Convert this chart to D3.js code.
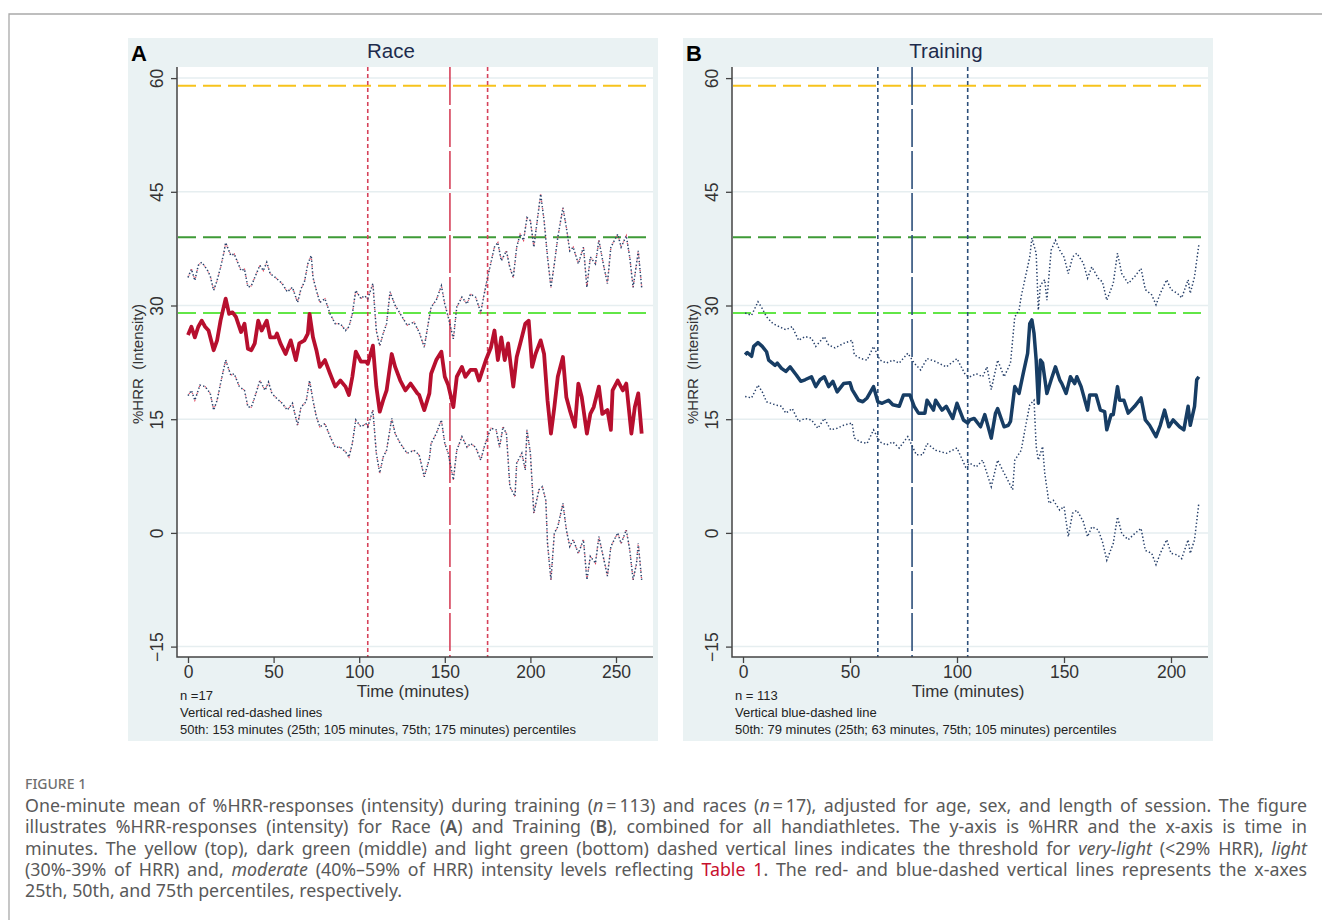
<!DOCTYPE html>
<html>
<head>
<meta charset="utf-8">
<script src="https://cdn.jsdelivr.net/npm/d3@7"></script>
<style>
  body { margin: 0; background: #fff; }
  svg text { font-family: "Liberation Sans", Arial, sans-serif; }
</style>
</head>
<body>
<script>
// Race: one-minute mean %HRR with upper / lower limits
var raceMinutes = [0,2,4,6,8,10,12,15,17,19,22,24,26,28,31,33,35,37,39,41,43,46,48,51,52,54,57,60,63,65,68,70,71,73,75,77,80,83,86,89,92,94,96,98,101,104,105,108,110,112,114,116,119,121,124,127,130,134,135,138,141,142,145,148,150,152,155,157,160,162,165,168,170,174,177,179,181,183,185,187,190,192,195,197,199,201,203,206,208,210,212,214,216,219,221,223,226,228,230,233,235,237,240,242,245,247,248,251,254,256,259,261,263,265];
var raceMean = [26.1,27.2,25.8,27.2,28.0,27.2,26.7,24.1,25.4,28.0,30.9,28.9,29.1,28.5,26.5,27.6,24.3,24.1,25.0,28.0,26.7,28.0,25.8,25.8,26.3,25.0,23.6,25.4,22.8,25.0,25.4,26.3,28.9,25.8,24.1,21.9,22.8,21.0,19.3,20.1,19.3,18.2,20.6,23.9,22.6,22.6,22.3,24.7,19.3,16.0,17.5,18.8,23.6,21.9,20.1,18.8,19.7,18.4,18.2,16.2,18.4,21.0,22.8,23.9,20.6,19.5,16.6,20.6,21.9,20.6,21.5,21.5,20.1,22.8,24.5,26.7,22.8,25.8,22.8,25.0,19.3,23.2,25.8,27.6,28.0,21.9,23.6,25.4,23.6,17.5,13.1,16.6,20.6,23.2,17.9,16.2,14.0,19.7,17.9,13.1,15.7,16.6,19.3,15.7,16.2,13.6,18.8,20.1,18.8,19.7,13.1,16.6,18.4,13.1];

var raceUpperMinutes = [0,2,4,6,8,11,13,15,17,19,21,22,25,27,29,31,33,35,37,39,42,44,46,48,51,53,55,58,61,64,66,68,70,72,73,75,77,80,83,86,89,92,94,96,98,101,103,105,108,110,112,114,116,118,121,124,128,132,135,138,140,142,145,148,150,152,155,157,160,163,165,168,171,173,175,177,179,181,183,186,188,190,192,194,196,198,200,202,204,206,208,210,212,214,216,219,221,223,225,228,231,233,235,238,240,243,245,247,251,253,256,258,260,262,263,265];
var raceUpper = [33.7,34.8,33.3,35.3,35.7,34.8,33.9,32.0,33.3,35.0,37.0,38.3,36.6,36.8,35.7,34.6,34.8,32.4,32.6,33.7,35.3,34.6,35.7,34.2,33.7,33.3,32.9,31.8,32.4,30.4,32.2,33.1,35.5,36.6,33.7,32.0,30.4,30.9,28.9,27.6,27.6,26.7,27.2,28.9,32.0,30.9,31.3,30.9,32.9,26.7,24.7,26.3,27.6,31.8,30.0,28.9,27.4,27.8,26.5,24.5,27.2,29.8,30.7,32.6,30.2,28.5,25.6,29.8,31.1,30.2,31.5,31.1,29.1,31.5,33.7,35.7,37.7,38.3,35.9,37.2,35.0,33.7,37.7,39.4,38.6,41.6,41.2,37.7,41.2,44.7,41.2,36.4,32.4,35.5,39.0,42.9,40.3,37.2,37.7,35.5,37.7,32.4,36.4,35.5,38.6,35.0,32.9,37.7,39.4,37.7,39.2,36.4,32.4,35.5,37.2,32.4];

var raceLowerMinutes = [0,2,4,7,10,13,15,17,19,22,25,27,30,33,35,37,39,42,45,47,49,52,55,58,61,64,66,69,71,73,75,77,80,83,86,89,92,94,96,98,101,104,105,108,110,112,114,116,119,121,124,128,132,135,138,141,142,145,148,150,152,155,157,160,163,165,168,171,173,175,177,180,182,184,186,188,191,192,195,197,198,200,202,205,207,209,210,212,214,216,219,221,223,225,228,231,233,235,238,240,243,245,247,251,253,256,258,260,262,263,265];
var raceLower = [18.1,18.8,17.5,19.5,19.3,18.4,16.2,17.5,19.7,22.8,20.8,21.0,19.3,18.8,16.6,16.6,17.9,20.1,18.8,19.9,18.4,17.7,17.1,16.2,17.1,14.2,16.6,17.3,20.1,17.5,15.3,14.0,14.4,12.7,11.3,11.3,10.7,10.0,11.8,14.9,14.0,14.4,14.0,16.2,10.5,7.9,10.0,10.9,15.1,13.1,11.8,10.5,10.9,10.3,7.4,9.8,11.8,13.1,14.9,11.8,10.5,7.0,10.9,12.7,11.3,11.8,11.3,9.6,11.3,12.7,13.8,13.6,11.3,14.0,13.1,6.1,4.8,9.2,10.5,8.3,13.6,10.5,2.6,5.7,6.1,4.3,-1.4,-6.2,0.0,0.8,3.9,0.4,-1.8,-0.9,-2.7,-0.9,-6.2,-3.1,-4.0,-0.5,-3.6,-5.7,-1.8,0.0,-1.4,0.4,-2.2,-6.2,-4.0,-1.4,-6.2];

// Training
var trainMinutes = [1,2,4,5,7,9,11,12,15,16,18,20,22,25,27,29,32,34,36,38,40,42,44,47,50,51,54,56,58,61,63,65,68,70,73,75,78,80,82,85,86,89,90,93,95,98,100,103,105,106,108,111,113,116,118,119,122,124,125,127,129,131,133,134,135,136,137,138,139,140,142,144,146,148,149,151,153,155,156,158,161,162,165,167,169,170,172,173,175,176,178,180,183,186,188,190,193,195,197,199,201,204,206,208,209,211,212,213];
var trainMean = [23.5,23.8,23.3,24.6,25.1,24.6,23.9,22.8,22.1,22.4,21.7,21.3,21.9,20.8,20.0,20.2,20.6,19.3,20.2,20.6,19.3,20.0,18.6,19.7,19.8,18.9,17.5,17.3,17.8,19.3,17.3,17.1,17.5,16.9,16.7,18.2,18.2,16.7,15.8,15.8,17.5,16.2,17.5,16.2,16.7,15.1,17.1,14.9,14.5,14.9,15.1,14.0,15.6,12.5,15.8,16.4,14.0,14.2,14.7,19.3,18.4,21.1,23.7,27.6,28.1,26.3,22.8,17.1,22.8,22.4,18.4,20.2,21.9,20.2,19.7,18.4,20.6,19.7,20.6,19.3,16.2,18.2,18.2,16.2,16.0,13.6,15.6,15.6,19.3,17.5,17.5,15.8,16.7,17.8,14.9,14.2,12.7,14.2,16.2,14.0,14.9,14.0,13.6,16.7,14.2,16.7,20.2,20.6];

var trainUpperMinutes = [1,4,7,9,11,14,17,20,23,26,29,32,34,38,40,43,47,51,52,55,58,61,64,67,70,73,77,80,83,86,90,95,100,104,106,109,112,114,116,119,122,125,127,129,130,132,134,135,137,138,139,141,142,144,146,148,150,152,154,156,159,161,163,166,168,170,173,175,177,180,183,186,188,191,193,195,198,200,203,205,208,209,211,213];
var trainUpper = [29.0,28.7,30.5,29.6,28.5,27.6,27.2,26.8,27.2,25.4,25.9,25.7,24.6,25.9,24.8,24.4,25.0,25.4,23.5,23.0,22.8,24.6,22.8,22.4,22.8,22.4,23.7,22.4,21.5,23.0,22.6,21.9,23.0,20.8,20.6,21.0,20.6,21.9,18.9,22.8,20.6,22.4,28.5,29.4,31.2,33.8,36.4,38.9,36.9,29.4,32.7,33.4,30.7,37.3,38.6,37.3,36.4,34.2,36.4,36.9,35.6,33.6,35.1,33.6,33.1,30.7,32.9,36.9,34.2,32.9,33.8,34.9,32.1,31.4,30.1,31.6,33.4,32.1,31.6,31.0,33.4,31.6,33.8,38.0];

var trainLowerMinutes = [1,4,7,9,11,15,18,20,23,26,29,32,35,38,41,44,47,51,52,55,58,61,64,67,70,73,77,81,84,86,90,95,100,104,106,109,112,116,119,122,126,127,130,132,134,136,137,138,140,141,143,145,148,150,152,154,156,159,161,163,166,168,170,173,175,177,180,183,186,188,191,193,195,198,200,203,205,208,209,211,213];
var trainLower = [18.0,17.8,19.5,18.6,17.3,16.9,16.7,15.8,16.4,14.7,15.1,14.9,13.8,15.1,13.6,13.8,14.2,14.5,12.5,12.0,11.8,13.6,12.0,11.6,12.0,11.2,12.7,10.3,10.3,11.8,10.9,10.5,11.2,8.7,9.2,8.7,9.6,6.1,9.6,7.9,5.7,9.6,10.9,14.0,16.9,17.5,11.4,9.6,11.4,7.9,3.9,4.3,3.0,3.5,-0.5,2.6,3.0,1.5,-0.5,0.8,0.4,-1.2,-3.6,-1.4,2.1,-0.1,-0.9,-0.1,0.6,-2.3,-2.7,-4.2,-2.7,-0.9,-2.7,-2.9,-3.4,-0.9,-2.7,-0.9,3.9];

// thresholds (yellow, dark green, light green) and percentile minutes
var thresholds = [59, 39, 29];
var racePercentiles = [105, 153, 175];
var trainPercentiles = [63, 79, 105];

var yTicks = [-15, 0, 15, 30, 45, 60];
var raceTicks = [0, 50, 100, 150, 200, 250];
var trainTicks = [0, 50, 100, 150, 200];

var raceNotes = ["n =17", "Vertical red-dashed lines", "50th: 153 minutes (25th; 105 minutes, 75th; 175 minutes) percentiles"];
var trainNotes = ["n = 113", "Vertical blue-dashed line", "50th: 79 minutes (25th; 63 minutes, 75th; 105 minutes) percentiles"];

var width = 1322;
var height = 920;

var svg = d3.select("body")
  .append("svg")
  .attr("width", width)
  .attr("height", height);

// page frame
svg.append("path")
  .attr("d", "M9,920V14H1322")
  .attr("fill", "none")
  .attr("stroke", "#a9a9a9")
  .attr("stroke-width", 1.3);

// panel geometry (local to each panel)
var panelW = 530, panelH = 703, panelTop = 38;
var plot = { left: 49, right: 525, top: 29, bottom: 619 };
var thresholdColors = ["#f7c31c", "#3f9b37", "#62e647"];

function drawPanel(p) {
  var g = svg.append("g").attr("transform", "translate(" + p.left + "," + panelTop + ")");

  g.append("rect").attr("width", panelW).attr("height", panelH).attr("fill", "#eaf2f3");
  g.append("rect")
    .attr("x", plot.left).attr("y", plot.top)
    .attr("width", plot.right - plot.left).attr("height", plot.bottom - plot.top)
    .attr("fill", "#fff");

  var x = d3.scaleLinear().domain([0, p.xMax]).range([60, 488]);
  var y = d3.scaleLinear().domain([-15, 60]).range([608.6, 40.1]);

  // grid
  g.selectAll(".grid").data(yTicks).enter().append("line")
    .attr("x1", plot.left).attr("x2", plot.right)
    .attr("y1", function(d) { return y(d); })
    .attr("y2", function(d) { return y(d); })
    .attr("stroke", "#e6eef0")
    .attr("stroke-width", 1.5);

  // intensity thresholds
  g.selectAll(".thr").data(thresholds).enter().append("line")
    .attr("x1", plot.left + 1).attr("x2", plot.right)
    .attr("y1", function(d) { return y(d); })
    .attr("y2", function(d) { return y(d); })
    .attr("stroke", function(d, i) { return thresholdColors[i]; })
    .attr("stroke-width", 2)
    .attr("stroke-dasharray", "18 7");

  // percentile lines
  g.selectAll(".pct").data(p.percentiles).enter().append("line")
    .attr("x1", function(d) { return x(d); })
    .attr("x2", function(d) { return x(d); })
    .attr("y1", plot.top).attr("y2", plot.bottom)
    .attr("stroke", p.pctColor)
    .attr("stroke-width", 1.6)
    .attr("stroke-dasharray", function(d, i) { return i == 1 ? "38 4" : "4 3"; });

  var line = d3.line()
    .x(function(d) { return x(d[0]); })
    .y(function(d) { return y(d[1]); });

  // limits, dotted
  [p.upper, p.lower].forEach(function(s) {
    g.append("path")
      .attr("d", line(s))
      .attr("fill", "none")
      .attr("stroke", "#27406a")
      .attr("stroke-width", 1.5)
      .attr("stroke-dasharray", "1.4 2.2");
    if (p.dotRed) {
      g.append("path")
        .attr("d", line(s))
        .attr("fill", "none")
        .attr("stroke", "#e2465e")
        .attr("stroke-width", 1.3)
        .attr("stroke-dasharray", "0 2 1 4.2");
    }
  });

  // mean
  g.append("path")
    .attr("d", line(p.mean))
    .attr("fill", "none")
    .attr("stroke", p.meanColor)
    .attr("stroke-width", p.meanWidth)
    .attr("stroke-linejoin", "round");

  // axes
  var yAxis = g.append("g")
    .attr("transform", "translate(" + plot.left + ",0)")
    .call(d3.axisLeft(y).tickValues(yTicks).tickSize(6).tickSizeOuter(0));
  yAxis.select(".domain").remove();
  yAxis.selectAll("line").attr("stroke", "#444").attr("stroke-width", 1.3);
  yAxis.selectAll("text")
    .attr("x", 0)
    .attr("dy", "0.35em")
    .attr("text-anchor", "middle")
    .attr("transform", "translate(-20,0) rotate(-90)")
    .attr("font-size", 17.5)
    .attr("fill", "#333");

  var xAxis = g.append("g")
    .attr("transform", "translate(0," + plot.bottom + ")")
    .call(d3.axisBottom(x).tickValues(p.ticks).tickSize(6).tickSizeOuter(0));
  xAxis.select(".domain").remove();
  xAxis.selectAll("line").attr("stroke", "#444").attr("stroke-width", 1.3);
  xAxis.selectAll("text")
    .attr("font-size", 17.5)
    .attr("fill", "#333");

  g.append("path")
    .attr("d", "M" + plot.left + "," + plot.top + "V" + plot.bottom + "H" + plot.right)
    .attr("fill", "none")
    .attr("stroke", "#444")
    .attr("stroke-width", 1.5);

  // titles and labels
  g.append("text")
    .attr("x", 3).attr("y", 22.5)
    .attr("font-size", 22).attr("font-weight", "bold")
    .attr("fill", "#000")
    .text(p.letter);

  g.append("text")
    .attr("x", panelW / 2 - 2).attr("y", 20)
    .attr("text-anchor", "middle")
    .attr("font-size", 20.5)
    .attr("fill", "#1d2b4c")
    .text(p.title);

  g.append("text")
    .attr("transform", "translate(10," + ((plot.top + plot.bottom) / 2 + 2) + ") rotate(-90)")
    .attr("dy", "0.35em")
    .attr("text-anchor", "middle")
    .attr("font-size", 15)
    .attr("fill", "#333")
    .attr("xml:space", "preserve")
    .text("%HRR  (Intensity)");

  g.append("text")
    .attr("x", (plot.left + plot.right) / 2 - 2).attr("y", 659)
    .attr("text-anchor", "middle")
    .attr("font-size", 17)
    .attr("fill", "#333")
    .text("Time (minutes)");

  g.selectAll(".note").data(p.notes).enter().append("text")
    .attr("x", 52)
    .attr("y", function(d, i) { return 661.5 + i * 17.2; })
    .attr("font-size", 13)
    .attr("fill", "#222")
    .text(function(d) { return d; });
}

drawPanel({
  left: 128, letter: "A", title: "Race", xMax: 250, ticks: raceTicks,
  percentiles: racePercentiles, pctColor: "#d6425a",
  mean: d3.zip(raceMinutes, raceMean),
  upper: d3.zip(raceUpperMinutes, raceUpper),
  lower: d3.zip(raceLowerMinutes, raceLower),
  meanColor: "#b70f2e", meanWidth: 3.8, dotRed: true,
  notes: raceNotes
});

drawPanel({
  left: 683, letter: "B", title: "Training", xMax: 200, ticks: trainTicks,
  percentiles: trainPercentiles, pctColor: "#2d4f7a",
  mean: d3.zip(trainMinutes, trainMean),
  upper: d3.zip(trainUpperMinutes, trainUpper),
  lower: d3.zip(trainLowerMinutes, trainLower),
  meanColor: "#173d64", meanWidth: 3.5, dotRed: false,
  notes: trainNotes
});

// caption
var captionTitle = "FIGURE 1";
var captionLines = [
  [["One-minute mean of %HRR-responses (intensity) during training ("], ["n", "i"], ["\u2009=\u2009113) and races ("], ["n", "i"], ["\u2009=\u200917), adjusted for age, sex, and length of session. The figure"]],
  [["illustrates %HRR-responses (intensity) for Race ("], ["A", "b"], [") and Training ("], ["B", "b"], ["), combined for all handiathletes. The y-axis is %HRR and the x-axis is time in"]],
  [["minutes. The yellow (top), dark green (middle) and light green (bottom) dashed vertical lines indicates the threshold for "], ["very-light", "i"], [" (<29% HRR), "], ["light", "i"]],
  [["(30%-39% of HRR) and, "], ["moderate", "i"], [" (40%\u201359% of HRR) intensity levels reflecting "], ["Table 1", "link"], [". The red- and blue-dashed vertical lines represents the x-axes"]],
  [["25th, 50th, and 75th percentiles, respectively."]]
];

var cap = svg.append("g").attr("class", "caption");
cap.append("text")
  .attr("x", 25).attr("y", 788.5)
  .style("font-family", "'Noto Sans', 'Open Sans', sans-serif")
  .attr("font-size", 14)
  .attr("font-weight", 500)
  .attr("fill", "#6f6f6f")
  .text(captionTitle);

captionLines.forEach(function(segs, i) {
  var t = cap.append("text")
    .attr("x", 25)
    .attr("y", 812 + i * 21.3)
    .style("font-family", "'Noto Sans', 'Open Sans', sans-serif")
    .attr("font-size", 17.8)
    .attr("fill", "#595959")
    .attr("xml:space", "preserve");
  var spaces = 0;
  segs.forEach(function(s) {
    var ts = t.append("tspan").text(s[0]);
    if (s[1] == "i") ts.attr("font-style", "italic");
    if (s[1] == "b") ts.attr("font-weight", 600);
    if (s[1] == "link") ts.attr("fill", "#c8102e");
    spaces += s[0].split(" ").length - 1;
  });
  if (i < captionLines.length - 1) {
    var w = t.node().getComputedTextLength();
    t.attr("word-spacing", ((1307 - 25 - w) / spaces) + "px");
  }
});
</script>
</body>
</html>
